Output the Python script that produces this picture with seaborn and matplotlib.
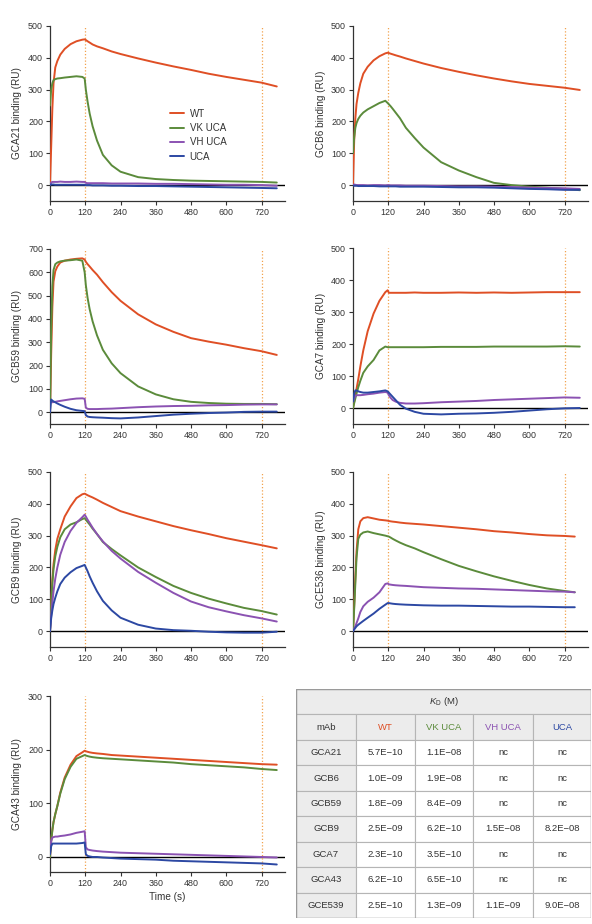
import matplotlib
matplotlib.use("Agg")
import numpy as np
import pandas as pd
import matplotlib.pyplot as plt
import seaborn as sns
from matplotlib.lines import Line2D
from matplotlib.patches import Rectangle

# ---------------- data ----------------
series_names = ["WT", "VK UCA", "VH UCA", "UCA"]
series_colors = ["#df4f25", "#5b8b3b", "#8b52b2", "#2c48a3"]
xticks = [0, 120, 240, 360, 480, 600, 720]

time_grid = [0, 4, 8, 12, 18, 25, 35, 50, 70, 90, 110, 118, 122, 128, 135,
             145, 160, 180, 210, 240, 300, 360, 420, 480, 540, 600, 660, 720, 772]
time_grid_short = time_grid[:-1] + [755]

gca21_wt = [0, 120, 240, 320, 370, 390, 410, 428, 443, 452, 457, 458, 456, 452, 448,
            442, 436, 430, 420, 412, 398, 385, 373, 362, 350, 340, 331, 322, 310]
gca21_vk = [250, 300, 320, 330, 333, 335, 336, 338, 340, 342, 340, 335, 300, 262, 225,
            185, 140, 95, 62, 42, 25, 19, 16, 14, 13, 12, 11, 10, 8]
gca21_vh = [0, 8, 10, 10, 10, 10, 11, 10, 10, 11, 10, 10, 7, 6, 6,
            6, 6, 6, 5, 5, 5, 4, 4, 3, 2, 1, 1, 0, -2]
gca21_uca = [0, 2, 2, 2, 1, 1, 1, 1, 1, 1, 1, 1, 0, 0, 0,
             -1, -1, -1, -2, -2, -3, -3, -4, -5, -6, -7, -8, -9, -10]

gcb6_wt = [0, 140, 210, 255, 290, 320, 350, 372, 392, 405, 414, 416, 415, 413, 411,
           408, 404, 398, 390, 382, 368, 356, 345, 335, 326, 318, 312, 306, 299]
gcb6_vk = [100, 150, 180, 195, 208, 218, 228, 238, 248, 258, 265, 258, 254, 248, 240,
           228, 210, 180, 148, 118, 72, 46, 25, 7, 0, -5, -8, -12, -16]
gcb6_vh = [0, 2, 1, 0, 0, 0, 0, -1, 0, 0, -1, 0, 0, -1, -1,
           -1, -1, -2, -2, -2, -3, -4, -4, -5, -6, -8, -9, -10, -12]
gcb6_uca = [-2, -2, -2, -2, -3, -3, -3, -3, -3, -4, -4, -4, -4, -4, -4,
            -4, -5, -5, -5, -5, -6, -7, -7, -8, -10, -12, -13, -15, -15]

gcb59_wt = [0, 250, 450, 560, 605, 625, 642, 650, 655, 658, 660, 655, 645, 635, 625,
            610, 590, 558, 515, 478, 420, 377, 345, 318, 303, 290, 275, 262, 246]
gcb59_vk = [0, 350, 540, 610, 635, 642, 647, 650, 652, 655, 650, 600, 545, 490, 442,
            390, 330, 268, 210, 168, 111, 77, 56, 45, 40, 37, 36, 36, 35]
gcb59_vh = [50, 45, 43, 44, 45, 47, 49, 52, 56, 59, 60, 58, 20, 15, 14,
            14, 14, 15, 16, 18, 22, 25, 27, 28, 30, 31, 33, 34, 34]
gcb59_uca = [0, 55, 50, 47, 43, 38, 32, 24, 15, 9, 6, 5, -12, -18, -20,
             -21, -22, -23, -25, -26, -22, -16, -10, -6, -3, -1, 2, 3, 3]

gca7_wt = [0, 20, 40, 60, 90, 130, 180, 240, 295, 335, 362, 368, 360, 360, 360,
           360, 360, 360, 361, 360, 360, 361, 360, 361, 360, 361, 362, 362, 362]
gca7_vk = [0, 15, 30, 45, 65, 85, 110, 130, 150, 180, 192, 190, 190, 190, 190,
           190, 190, 190, 190, 190, 191, 191, 191, 192, 192, 192, 192, 193, 192]
gca7_vh = [20, 30, 38, 40, 40, 40, 41, 43, 45, 48, 50, 48, 40, 32, 25,
           20, 16, 14, 14, 15, 18, 20, 22, 25, 27, 29, 31, 33, 32]
gca7_uca = [20, 45, 55, 55, 52, 50, 48, 48, 50, 52, 55, 52, 48, 42, 35,
            25, 10, -2, -12, -18, -20, -18, -17, -15, -12, -8, -4, -1, 0]

gcb9_wt = [0, 90, 160, 210, 255, 290, 320, 360, 392, 418, 430, 432, 430, 427, 424,
           420, 413, 403, 390, 377, 360, 345, 330, 317, 305, 292, 281, 270, 260]
gcb9_vk = [0, 80, 150, 195, 235, 265, 295, 320, 335, 342, 352, 355, 350, 343, 335,
           322, 305, 280, 258, 238, 200, 170, 142, 120, 102, 87, 73, 63, 52]
gcb9_vh = [0, 50, 90, 125, 165, 200, 240, 280, 315, 340, 358, 366, 360, 350, 340,
           325, 305, 282, 252, 228, 186, 152, 120, 93, 75, 62, 50, 40, 30]
gcb9_uca = [0, 40, 65, 85, 105, 125, 148, 168, 185, 198, 205, 208, 200, 188, 172,
            152, 125, 95, 65, 42, 20, 8, 3, 1, -2, -4, -5, -5, -2]

gce536_wt = [0, 80, 170, 250, 320, 345, 355, 358, 354, 350, 348, 347, 346, 345, 344,
             343, 341, 339, 337, 335, 330, 325, 320, 314, 310, 305, 301, 299, 297]
gce536_vk = [0, 70, 150, 230, 290, 303, 310, 313, 308, 304, 300, 298, 297, 294, 290,
             285, 278, 270, 260, 248, 226, 205, 188, 172, 158, 145, 134, 126, 122]
gce536_vh = [0, 8, 15, 25, 40, 60, 78, 92, 105, 122, 148, 150, 147, 146, 145,
             144, 143, 142, 140, 138, 136, 134, 133, 131, 129, 127, 125, 124, 122]
gce536_uca = [0, 5, 10, 15, 20, 25, 32, 42, 55, 70, 83, 88, 88, 87, 86,
              85, 84, 83, 82, 81, 80, 80, 79, 78, 77, 77, 76, 75, 75]

gca43_wt = [0, 30, 50, 65, 80, 95, 120, 148, 172, 188, 195, 198, 197, 196, 195,
            194, 193, 192, 190, 189, 187, 185, 183, 181, 179, 177, 175, 173, 172]
gca43_vk = [0, 30, 50, 65, 80, 95, 118, 145, 168, 183, 188, 190, 189, 188, 187,
            186, 185, 184, 183, 182, 180, 178, 176, 173, 171, 169, 167, 164, 162]
gca43_vh = [10, 30, 36, 37, 38, 38, 39, 40, 42, 45, 47, 48, 18, 14, 13,
            12, 11, 10, 9, 8, 7, 6, 5, 4, 3, 2, 1, 0, -1]
gca43_uca = [5, 20, 25, 25, 25, 25, 25, 25, 25, 25, 26, 27, 5, 2, 1,
             0, 0, -1, -2, -3, -4, -5, -7, -8, -9, -10, -11, -12, -14]

# K_D table
table_mabs = ["GCA21", "GCB6", "GCB59", "GCB9", "GCA7", "GCA43", "GCE539"]
kd_wt = ["5.7E−10", "1.0E−09", "1.8E−09", "2.5E−09", "2.3E−10", "6.2E−10", "2.5E−10"]
kd_vk = ["1.1E−08", "1.9E−08", "8.4E−09", "6.2E−10", "3.5E−10", "6.5E−10", "1.3E−09"]
kd_vh = ["nc", "nc", "nc", "1.5E−08", "nc", "nc", "1.1E−09"]
kd_uca = ["nc", "nc", "nc", "8.2E−08", "nc", "nc", "9.0E−08"]

# ---------------- style ----------------
sns.set_theme(style="ticks")
plt.rcParams['font.family'] = ['Liberation Sans', 'DejaVu Sans']
plt.rcParams['mathtext.fontset'] = 'custom'
plt.rcParams['mathtext.rm'] = 'Liberation Sans'
plt.rcParams['mathtext.it'] = 'Liberation Sans:italic'

TXT = "#333333"
W, H = 592, 924
fig = plt.figure(figsize=(W / 100, H / 100), dpi=100)

def px_axes(left, top, right, bottom):
    return fig.add_axes([left / W, 1 - bottom / H, (right - left) / W, (bottom - top) / H])

panels = [
    ("GCA21", time_grid, [gca21_wt, gca21_vk, gca21_vh, gca21_uca], (-50, 500), [0, 100, 200, 300, 400, 500], (50, 26, 285, 201)),
    ("GCB6", time_grid, [gcb6_wt, gcb6_vk, gcb6_vh, gcb6_uca], (-50, 500), [0, 100, 200, 300, 400, 500], (353, 26, 588, 201)),
    ("GCB59", time_grid, [gcb59_wt, gcb59_vk, gcb59_vh, gcb59_uca], (-50, 700), [0, 100, 200, 300, 400, 500, 600, 700], (50, 249, 285, 424)),
    ("GCA7", time_grid, [gca7_wt, gca7_vk, gca7_vh, gca7_uca], (-50, 500), [0, 100, 200, 300, 400, 500], (353, 248, 588, 424)),
    ("GCB9", time_grid, [gcb9_wt, gcb9_vk, gcb9_vh, gcb9_uca], (-50, 500), [0, 100, 200, 300, 400, 500], (50, 472, 285, 647)),
    ("GCE536", time_grid_short, [gce536_wt, gce536_vk, gce536_vh, gce536_uca], (-50, 500), [0, 100, 200, 300, 400, 500], (353, 472, 588, 647)),
    ("GCA43", time_grid, [gca43_wt, gca43_vk, gca43_vh, gca43_uca], (-28, 300), [0, 100, 200, 300], (50, 696, 285, 872)),
]

palette = dict(zip(series_names, series_colors))

for i, (name, tt, vals, ylim, yticks, pos) in enumerate(panels):
    ax = px_axes(*pos)
    rows = []
    for sname, v in zip(series_names, vals):
        for t, y in zip(tt, v):
            rows.append((t, y, sname))
    df = pd.DataFrame(rows, columns=["Time", "RU", "mAb"])
    ax.axhline(0, color="black", lw=1.0, zorder=1)
    for xv in (120, 720):
        ax.axvline(xv, color="#f2a24e", lw=0.9, ls=(0, (1, 1.6)), zorder=1)
    sns.lineplot(data=df, x="Time", y="RU", hue="mAb", hue_order=series_names,
                 palette=palette, estimator=None, lw=1.4, legend=False, ax=ax, zorder=3)
    ax.set_xlim(0, 800)
    ax.set_ylim(*ylim)
    ax.set_xticks(xticks)
    ax.set_yticks(yticks)
    ax.set_ylabel(f"{name} binding (RU)", fontsize=7.2, color=TXT, labelpad=4)
    ax.set_xlabel("Time (s)" if i == 6 else "", fontsize=7.2, color=TXT, labelpad=3)
    sns.despine(ax=ax)
    for s in ("left", "bottom"):
        ax.spines[s].set_color(TXT)
        ax.spines[s].set_linewidth(0.9)
    ax.tick_params(labelsize=6.4, colors=TXT, length=3, width=0.8, pad=2)
    if i == 0:
        handles = [Line2D([], [], color=c, lw=1.4) for c in series_colors]
        ax.legend(handles, series_names, loc="upper left", bbox_to_anchor=(0.495, 0.55),
                  frameon=False, fontsize=7, handlelength=1.4, handletextpad=0.6,
                  labelspacing=0.45, labelcolor=TXT, borderaxespad=0)

# ---------------- table ----------------
tax = px_axes(296, 689, 591, 918)
tax.set_xlim(0, 1)
tax.set_ylim(0, 9)
tax.axis("off")
col_edges = [0, 0.2034, 0.4034, 0.6, 0.8034, 1.0]
grid_c = "#b5b5b5"
hdr_bg = "#ececec"
nrows = 9

def cell(c0, c1, r, text, bg, color=TXT):
    y0 = nrows - r - 1
    tax.add_patch(Rectangle((c0, y0), c1 - c0, 1, facecolor=bg, edgecolor=grid_c, lw=0.8))
    tax.text((c0 + c1) / 2, y0 + 0.5, text, ha="center", va="center", fontsize=6.8, color=color)

cell(0, 1, 0, r"$K_{\mathrm{D}}$ (M)", hdr_bg)
header = ["mAb"] + series_names
hdr_colors = [TXT] + series_colors
for j in range(5):
    cell(col_edges[j], col_edges[j + 1], 1, header[j], hdr_bg, hdr_colors[j])
for r, mab in enumerate(table_mabs):
    rowvals = [mab, kd_wt[r], kd_vk[r], kd_vh[r], kd_uca[r]]
    for j in range(5):
        cell(col_edges[j], col_edges[j + 1], r + 2, rowvals[j], hdr_bg if j == 0 else "white")
tax.add_patch(Rectangle((0, 0), 1, 9, facecolor="none", edgecolor="#9a9a9a", lw=1.0))

fig.savefig("out.png", dpi=100)
